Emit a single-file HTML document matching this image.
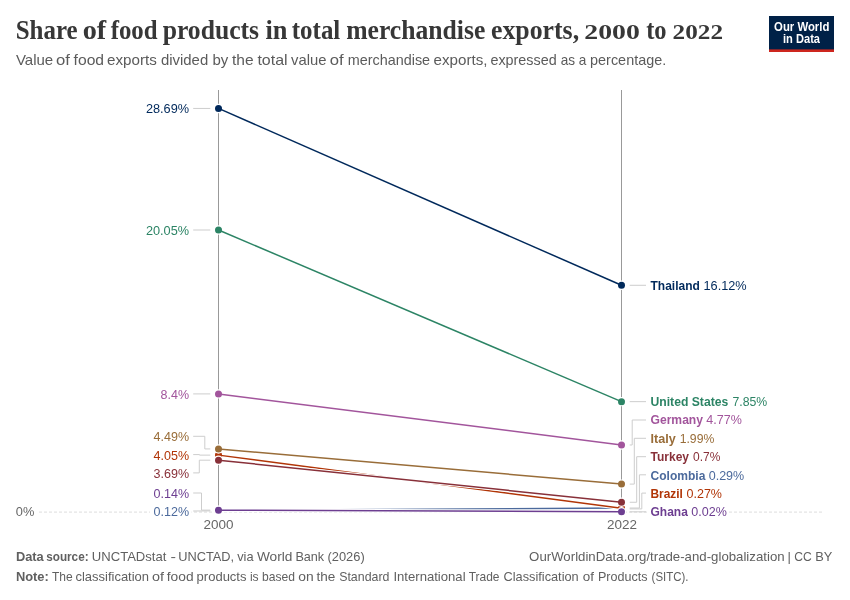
<!DOCTYPE html>
<html><head><meta charset="utf-8"><title>Share of food products in total merchandise exports</title>
<style>
html,body{margin:0;padding:0;background:#fff;}
body{width:850px;height:600px;overflow:hidden;font-family:"Liberation Sans",sans-serif;}
svg{display:block;will-change:transform;font-family:"Liberation Sans",sans-serif;}
.t{font-family:"Liberation Serif",serif;font-weight:bold;fill:#373737;}
.b{font-weight:bold;}
</style></head><body>
<svg width="850" height="600" viewBox="0 0 850 600">
<rect width="850" height="600" fill="#fff"/>

<text class="t" x="15.7" y="38.8" font-size="26.5" textLength="62.0" lengthAdjust="spacingAndGlyphs">Share</text>
<text class="t" x="82.7" y="38.8" font-size="26.5" textLength="23.5" lengthAdjust="spacingAndGlyphs">of</text>
<text class="t" x="110.7" y="38.8" font-size="26.5" textLength="46.9" lengthAdjust="spacingAndGlyphs">food</text>
<text class="t" x="162.7" y="38.8" font-size="26.5" textLength="96.4" lengthAdjust="spacingAndGlyphs">products</text>
<text class="t" x="265.4" y="38.8" font-size="26.5" textLength="22.0" lengthAdjust="spacingAndGlyphs">in</text>
<text class="t" x="291.8" y="38.8" font-size="26.5" textLength="48.5" lengthAdjust="spacingAndGlyphs">total</text>
<text class="t" x="346.2" y="38.8" font-size="26.5" textLength="139.1" lengthAdjust="spacingAndGlyphs">merchandise</text>
<text class="t" x="491.0" y="38.8" font-size="26.5" textLength="88.1" lengthAdjust="spacingAndGlyphs">exports,</text>
<text class="t" x="646.2" y="38.8" font-size="26.5" textLength="20.4" lengthAdjust="spacingAndGlyphs">to</text>
<text class="t" x="584.3" y="38.8" font-size="20" textLength="55.5" lengthAdjust="spacingAndGlyphs">2000</text>
<text class="t" x="672.6" y="38.8" font-size="20" textLength="50.4" lengthAdjust="spacingAndGlyphs">2022</text>
<text x="15.9" y="64.7" font-size="15" fill="#5b5b5b" textLength="37.3" lengthAdjust="spacingAndGlyphs">Value</text>
<text x="56.0" y="64.7" font-size="15" fill="#5b5b5b" textLength="13.9" lengthAdjust="spacingAndGlyphs">of</text>
<text x="73.6" y="64.7" font-size="15" fill="#5b5b5b" textLength="30.5" lengthAdjust="spacingAndGlyphs">food</text>
<text x="107.0" y="64.7" font-size="15" fill="#5b5b5b" textLength="49.8" lengthAdjust="spacingAndGlyphs">exports</text>
<text x="160.9" y="64.7" font-size="15" fill="#5b5b5b" textLength="47.3" lengthAdjust="spacingAndGlyphs">divided</text>
<text x="212.4" y="64.7" font-size="15" fill="#5b5b5b" textLength="15.8" lengthAdjust="spacingAndGlyphs">by</text>
<text x="232.0" y="64.7" font-size="15" fill="#5b5b5b" textLength="21.6" lengthAdjust="spacingAndGlyphs">the</text>
<text x="257.4" y="64.7" font-size="15" fill="#5b5b5b" textLength="30.2" lengthAdjust="spacingAndGlyphs">total</text>
<text x="291.0" y="64.7" font-size="15" fill="#5b5b5b" textLength="35.4" lengthAdjust="spacingAndGlyphs">value</text>
<text x="329.8" y="64.7" font-size="15" fill="#5b5b5b" textLength="13.9" lengthAdjust="spacingAndGlyphs">of</text>
<text x="347.7" y="64.7" font-size="15" fill="#5b5b5b" textLength="82.4" lengthAdjust="spacingAndGlyphs">merchandise</text>
<text x="433.6" y="64.7" font-size="15" fill="#5b5b5b" textLength="53.9" lengthAdjust="spacingAndGlyphs">exports,</text>
<text x="490.4" y="64.7" font-size="15" fill="#5b5b5b" textLength="66.3" lengthAdjust="spacingAndGlyphs">expressed</text>
<text x="560.7" y="64.7" font-size="15" fill="#5b5b5b" textLength="25.7" lengthAdjust="spacingAndGlyphs">as a</text>
<text x="590.1" y="64.7" font-size="15" fill="#5b5b5b" textLength="76.1" lengthAdjust="spacingAndGlyphs">percentage.</text>
<rect x="769" y="16" width="65" height="36" fill="#002147"/>
<rect x="769" y="49.4" width="65" height="2.6" fill="#ce261e"/>
<text class="b" x="801.7" y="30.9" font-size="12" fill="#fff" text-anchor="middle" textLength="55.3" lengthAdjust="spacingAndGlyphs">Our World</text>
<text class="b" x="801.5" y="42.6" font-size="12" fill="#fff" text-anchor="middle" textLength="37" lengthAdjust="spacingAndGlyphs">in Data</text>
<line x1="39" x2="823" y1="512.1" y2="512.1" stroke="#ddd" stroke-width="1" stroke-dasharray="3,2"/>
<text x="15.8" y="516.2" font-size="13" fill="#666" textLength="18.5" lengthAdjust="spacingAndGlyphs">0%</text>
<line x1="218.5" x2="218.5" y1="90" y2="512.1" stroke="#999" stroke-width="1"/>
<line x1="621.5" x2="621.5" y1="90" y2="512.1" stroke="#999" stroke-width="1"/>
<text x="218.5" y="529" font-size="13" fill="#666" text-anchor="middle" textLength="30" lengthAdjust="spacingAndGlyphs">2000</text>
<text x="622" y="529" font-size="13" fill="#666" text-anchor="middle" textLength="30" lengthAdjust="spacingAndGlyphs">2022</text>
<path d="M193.2,108.43 L210.3,108.43" fill="none" stroke="#cdcdcd" stroke-width="1"/>
<path d="M193.2,230.0 L210.3,230.0" fill="none" stroke="#cdcdcd" stroke-width="1"/>
<path d="M193.2,393.91 L210.3,393.91" fill="none" stroke="#cdcdcd" stroke-width="1"/>
<path d="M193.2,436.3 L204.8,436.3 L204.8,448.93 L210.3,448.93" fill="none" stroke="#cdcdcd" stroke-width="1"/>
<path d="M193.2,454.6 L199.5,454.6 L199.5,455.12 L210.3,455.12" fill="none" stroke="#cdcdcd" stroke-width="1"/>
<path d="M193.2,472.9 L199.3,472.9 L199.3,460.18 L210.3,460.18" fill="none" stroke="#cdcdcd" stroke-width="1"/>
<path d="M193.2,493 L201.5,493 L201.5,510.13 L210.3,510.13" fill="none" stroke="#cdcdcd" stroke-width="1"/>
<path d="M193.2,511 L210.3,510.91" fill="none" stroke="#cdcdcd" stroke-width="1"/>
<path d="M629.7,285.29 L646,285.29" fill="none" stroke="#cdcdcd" stroke-width="1"/>
<path d="M629.7,401.65 L646,401.65" fill="none" stroke="#cdcdcd" stroke-width="1"/>
<path d="M629.7,444.99 L632.2,444.99 L632.2,420 L646,420" fill="none" stroke="#cdcdcd" stroke-width="1"/>
<path d="M629.7,484.1 L634.3,484.1 L634.3,438.3 L646,438.3" fill="none" stroke="#cdcdcd" stroke-width="1"/>
<path d="M629.7,502.25 L636.7,502.25 L636.7,456.7 L646,456.7" fill="none" stroke="#cdcdcd" stroke-width="1"/>
<path d="M629.7,508.02 L639.4,508.02 L639.4,474.8 L646,474.8" fill="none" stroke="#cdcdcd" stroke-width="1"/>
<path d="M629.7,508.90000000000003 L641.8,508.90000000000003 L641.8,493.1 L646,493.1" fill="none" stroke="#cdcdcd" stroke-width="1"/>
<path d="M629.7,511.82 L646,511.82" fill="none" stroke="#cdcdcd" stroke-width="1"/>
<line x1="218.5" y1="108.43" x2="621.5" y2="285.29" stroke="#fff" stroke-width="3.5"/>
<circle cx="218.5" cy="108.43" r="4.7" fill="#fff"/><circle cx="621.5" cy="285.29" r="4.7" fill="#fff"/>
<line x1="218.5" y1="108.43" x2="621.5" y2="285.29" stroke="#00295b" stroke-width="1.5"/>
<circle cx="218.5" cy="108.43" r="3.5" fill="#00295b"/><circle cx="621.5" cy="285.29" r="3.5" fill="#00295b"/>
<line x1="218.5" y1="230.0" x2="621.5" y2="401.65" stroke="#fff" stroke-width="3.5"/>
<circle cx="218.5" cy="230.0" r="4.7" fill="#fff"/><circle cx="621.5" cy="401.65" r="4.7" fill="#fff"/>
<line x1="218.5" y1="230.0" x2="621.5" y2="401.65" stroke="#2c8465" stroke-width="1.5"/>
<circle cx="218.5" cy="230.0" r="3.5" fill="#2c8465"/><circle cx="621.5" cy="401.65" r="3.5" fill="#2c8465"/>
<line x1="218.5" y1="393.91" x2="621.5" y2="444.99" stroke="#fff" stroke-width="3.5"/>
<circle cx="218.5" cy="393.91" r="4.7" fill="#fff"/><circle cx="621.5" cy="444.99" r="4.7" fill="#fff"/>
<line x1="218.5" y1="393.91" x2="621.5" y2="444.99" stroke="#a2559c" stroke-width="1.5"/>
<circle cx="218.5" cy="393.91" r="3.5" fill="#a2559c"/><circle cx="621.5" cy="444.99" r="3.5" fill="#a2559c"/>
<line x1="218.5" y1="510.41" x2="621.5" y2="508.02" stroke="#fff" stroke-width="3.5"/>
<circle cx="218.5" cy="510.41" r="4.7" fill="#fff"/><circle cx="621.5" cy="508.02" r="4.7" fill="#fff"/>
<line x1="218.5" y1="510.41" x2="621.5" y2="508.02" stroke="#4c6a9c" stroke-width="1.5"/>
<circle cx="218.5" cy="510.41" r="3.5" fill="#4c6a9c"/><circle cx="621.5" cy="508.02" r="3.5" fill="#4c6a9c"/>
<line x1="218.5" y1="455.12" x2="621.5" y2="508.3" stroke="#fff" stroke-width="3.5"/>
<circle cx="218.5" cy="455.12" r="4.7" fill="#fff"/><circle cx="621.5" cy="508.3" r="4.7" fill="#fff"/>
<line x1="218.5" y1="455.12" x2="621.5" y2="508.3" stroke="#b13507" stroke-width="1.5"/>
<circle cx="218.5" cy="455.12" r="3.5" fill="#b13507"/><circle cx="621.5" cy="508.3" r="3.5" fill="#b13507"/>
<line x1="218.5" y1="448.93" x2="621.5" y2="484.1" stroke="#fff" stroke-width="3.5"/>
<circle cx="218.5" cy="448.93" r="4.7" fill="#fff"/><circle cx="621.5" cy="484.1" r="4.7" fill="#fff"/>
<line x1="218.5" y1="448.93" x2="621.5" y2="484.1" stroke="#996d39" stroke-width="1.5"/>
<circle cx="218.5" cy="448.93" r="3.5" fill="#996d39"/><circle cx="621.5" cy="484.1" r="3.5" fill="#996d39"/>
<line x1="218.5" y1="460.18" x2="621.5" y2="502.25" stroke="#fff" stroke-width="3.5"/>
<circle cx="218.5" cy="460.18" r="4.7" fill="#fff"/><circle cx="621.5" cy="502.25" r="4.7" fill="#fff"/>
<line x1="218.5" y1="460.18" x2="621.5" y2="502.25" stroke="#883039" stroke-width="1.5"/>
<circle cx="218.5" cy="460.18" r="3.5" fill="#883039"/><circle cx="621.5" cy="502.25" r="3.5" fill="#883039"/>
<line x1="218.5" y1="510.13" x2="621.5" y2="511.82" stroke="#fff" stroke-width="3.5"/>
<circle cx="218.5" cy="510.13" r="4.7" fill="#fff"/><circle cx="621.5" cy="511.82" r="4.7" fill="#fff"/>
<line x1="218.5" y1="510.13" x2="621.5" y2="511.82" stroke="#6d3e91" stroke-width="1.5"/>
<circle cx="218.5" cy="510.13" r="3.5" fill="#6d3e91"/><circle cx="621.5" cy="511.82" r="3.5" fill="#6d3e91"/>
<rect x="150" y="505" width="41.5" height="14" fill="#fff"/>
<rect x="648" y="505" width="81" height="14" fill="#fff"/>
<text x="189.1" y="113" font-size="13.5" fill="#00295b" text-anchor="end" textLength="43.2" lengthAdjust="spacingAndGlyphs">28.69%</text>
<text x="189.1" y="235" font-size="13.5" fill="#2c8465" text-anchor="end" textLength="43.2" lengthAdjust="spacingAndGlyphs">20.05%</text>
<text x="189.1" y="399" font-size="13.5" fill="#a2559c" text-anchor="end" textLength="28.5" lengthAdjust="spacingAndGlyphs">8.4%</text>
<text x="189.1" y="441" font-size="13.5" fill="#996d39" text-anchor="end" textLength="35.5" lengthAdjust="spacingAndGlyphs">4.49%</text>
<text x="189.1" y="460" font-size="13.5" fill="#b13507" text-anchor="end" textLength="35.5" lengthAdjust="spacingAndGlyphs">4.05%</text>
<text x="189.1" y="478" font-size="13.5" fill="#883039" text-anchor="end" textLength="35.5" lengthAdjust="spacingAndGlyphs">3.69%</text>
<text x="189.1" y="498" font-size="13.5" fill="#6d3e91" text-anchor="end" textLength="35.5" lengthAdjust="spacingAndGlyphs">0.14%</text>
<text x="189.1" y="516" font-size="13.5" fill="#4c6a9c" text-anchor="end" textLength="35.5" lengthAdjust="spacingAndGlyphs">0.12%</text>
<text class="b" x="650.5" y="290" font-size="13.5" fill="#00295b" textLength="49.3" lengthAdjust="spacingAndGlyphs">Thailand</text>
<text x="703.5" y="290" font-size="13.5" fill="#00295b" textLength="43.2" lengthAdjust="spacingAndGlyphs">16.12%</text>
<text class="b" x="650.5" y="406" font-size="13.5" fill="#2c8465" textLength="77.8" lengthAdjust="spacingAndGlyphs">United States</text>
<text x="732.4" y="406" font-size="13.5" fill="#2c8465" textLength="34.8" lengthAdjust="spacingAndGlyphs">7.85%</text>
<text class="b" x="650.5" y="424" font-size="13.5" fill="#a2559c" textLength="52.5" lengthAdjust="spacingAndGlyphs">Germany</text>
<text x="706.3" y="424" font-size="13.5" fill="#a2559c" textLength="35.5" lengthAdjust="spacingAndGlyphs">4.77%</text>
<text class="b" x="650.5" y="443" font-size="13.5" fill="#996d39" textLength="25.2" lengthAdjust="spacingAndGlyphs">Italy</text>
<text x="679.7" y="443" font-size="13.5" fill="#996d39" textLength="34.6" lengthAdjust="spacingAndGlyphs">1.99%</text>
<text class="b" x="650.5" y="461" font-size="13.5" fill="#883039" textLength="38.5" lengthAdjust="spacingAndGlyphs">Turkey</text>
<text x="693" y="461" font-size="13.5" fill="#883039" textLength="27.3" lengthAdjust="spacingAndGlyphs">0.7%</text>
<text class="b" x="650.5" y="480" font-size="13.5" fill="#4c6a9c" textLength="54.9" lengthAdjust="spacingAndGlyphs">Colombia</text>
<text x="708.7" y="480" font-size="13.5" fill="#4c6a9c" textLength="35.5" lengthAdjust="spacingAndGlyphs">0.29%</text>
<text class="b" x="650.5" y="498" font-size="13.5" fill="#b13507" textLength="32.4" lengthAdjust="spacingAndGlyphs">Brazil</text>
<text x="686.5" y="498" font-size="13.5" fill="#b13507" textLength="35.5" lengthAdjust="spacingAndGlyphs">0.27%</text>
<text class="b" x="650.5" y="516" font-size="13.5" fill="#6d3e91" textLength="37.3" lengthAdjust="spacingAndGlyphs">Ghana</text>
<text x="691.3" y="516" font-size="13.5" fill="#6d3e91" textLength="35.5" lengthAdjust="spacingAndGlyphs">0.02%</text>
<text class="b" x="15.9" y="561.2" font-size="13" fill="#606060" textLength="27.8" lengthAdjust="spacingAndGlyphs">Data</text>
<text class="b" x="46.2" y="561.2" font-size="13" fill="#606060" textLength="42.4" lengthAdjust="spacingAndGlyphs">source:</text>
<text x="91.8" y="561.2" font-size="13" fill="#606060" textLength="74.6" lengthAdjust="spacingAndGlyphs">UNCTADstat</text>
<text x="170.4" y="561.2" font-size="13" fill="#606060" textLength="5.5" lengthAdjust="spacingAndGlyphs">-</text>
<text x="178.2" y="561.2" font-size="13" fill="#606060" textLength="55.9" lengthAdjust="spacingAndGlyphs">UNCTAD,</text>
<text x="237.2" y="561.2" font-size="13" fill="#606060" textLength="16.4" lengthAdjust="spacingAndGlyphs">via</text>
<text x="256.9" y="561.2" font-size="13" fill="#606060" textLength="35.5" lengthAdjust="spacingAndGlyphs">World</text>
<text x="295.4" y="561.2" font-size="13" fill="#606060" textLength="28.8" lengthAdjust="spacingAndGlyphs">Bank</text>
<text x="327.5" y="561.2" font-size="13" fill="#606060" textLength="37.2" lengthAdjust="spacingAndGlyphs">(2026)</text>
<text x="529.1" y="561.2" font-size="13" fill="#606060" textLength="255.5" lengthAdjust="spacingAndGlyphs">OurWorldinData.org/trade-and-globalization</text>
<text x="794.2" y="561.2" font-size="13" fill="#606060" textLength="17.5" lengthAdjust="spacingAndGlyphs">CC</text>
<text x="815.2" y="561.2" font-size="13" fill="#606060" textLength="17.1" lengthAdjust="spacingAndGlyphs">BY</text>
<text x="787.5" y="561.2" font-size="13" fill="#606060">|</text>
<text class="b" x="15.9" y="580.6" font-size="13" fill="#606060" textLength="32.9" lengthAdjust="spacingAndGlyphs">Note:</text>
<text x="51.9" y="580.6" font-size="13" fill="#606060" textLength="20.7" lengthAdjust="spacingAndGlyphs">The</text>
<text x="75.5" y="580.6" font-size="13" fill="#606060" textLength="73.5" lengthAdjust="spacingAndGlyphs">classification</text>
<text x="152.1" y="580.6" font-size="13" fill="#606060" textLength="12.0" lengthAdjust="spacingAndGlyphs">of</text>
<text x="166.8" y="580.6" font-size="13" fill="#606060" textLength="26.8" lengthAdjust="spacingAndGlyphs">food</text>
<text x="196.6" y="580.6" font-size="13" fill="#606060" textLength="49.9" lengthAdjust="spacingAndGlyphs">products</text>
<text x="249.9" y="580.6" font-size="13" fill="#606060" textLength="45.0" lengthAdjust="spacingAndGlyphs">is based</text>
<text x="298.2" y="580.6" font-size="13" fill="#606060" textLength="15.4" lengthAdjust="spacingAndGlyphs">on</text>
<text x="316.6" y="580.6" font-size="13" fill="#606060" textLength="18.8" lengthAdjust="spacingAndGlyphs">the</text>
<text x="339.2" y="580.6" font-size="13" fill="#606060" textLength="50.2" lengthAdjust="spacingAndGlyphs">Standard</text>
<text x="393.4" y="580.6" font-size="13" fill="#606060" textLength="72.2" lengthAdjust="spacingAndGlyphs">International</text>
<text x="468.7" y="580.6" font-size="13" fill="#606060" textLength="30.8" lengthAdjust="spacingAndGlyphs">Trade</text>
<text x="503.5" y="580.6" font-size="13" fill="#606060" textLength="75.2" lengthAdjust="spacingAndGlyphs">Classification</text>
<text x="582.8" y="580.6" font-size="13" fill="#606060" textLength="11.2" lengthAdjust="spacingAndGlyphs">of</text>
<text x="598.0" y="580.6" font-size="13" fill="#606060" textLength="49.5" lengthAdjust="spacingAndGlyphs">Products</text>
<text x="651.6" y="580.6" font-size="13" fill="#606060" textLength="36.9" lengthAdjust="spacingAndGlyphs">(SITC).</text>
</svg></body></html>
